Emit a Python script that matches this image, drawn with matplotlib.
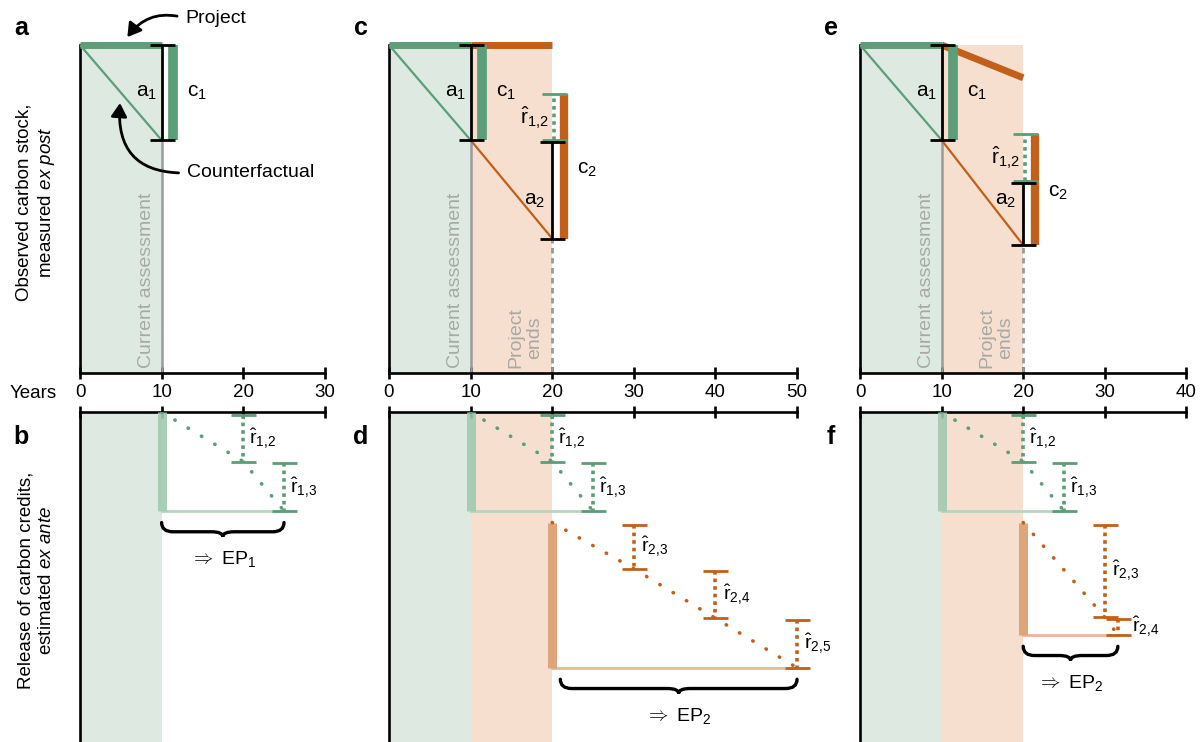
import numpy as np
import matplotlib.pyplot as plt
from matplotlib.path import Path
from matplotlib.patches import PathPatch

plt.rcParams['font.family'] = ['Liberation Sans', 'DejaVu Sans']
plt.rcParams['mathtext.fontset'] = 'custom'
plt.rcParams['mathtext.rm'] = 'Liberation Sans'
plt.rcParams['mathtext.it'] = 'Liberation Sans:italic'
plt.rcParams['mathtext.bf'] = 'Liberation Sans:bold'
plt.rcParams['axes.linewidth'] = 1.9

# ---------------- data ----------------
x_max = [30, 50, 40]
x_ticks = [[0, 10, 20, 30], [0, 10, 20, 30, 40, 50], [0, 10, 20, 30, 40]]
assess_year = 10
end_year = 20

# top row: observed carbon stock (arbitrary units)
stock_start = 100
cf_stock_assess = 71
proj_stock_end = [None, 100, 90]
cf_stock_end = [None, 41, 39]
r12_hi = [None, 85, 73]
r12_lo = [None, 71, 58.5]

# bottom row: cumulative release of credits (arbitrary units, downwards)
g_years = [10, 20, 25]
g_levels = [0, 15, 30]
g_labels = ['1{,}2', '1{,}3']
o_years = [None, [20, 30, 40, 50], [20, 30, 31.6]]
o_levels = [None, [33.5, 47.5, 62.5, 77.5], [33.5, 62.2, 67.5]]
o_labels = [None, ['2{,}3', '2{,}4', '2{,}5'], ['2{,}3', '2{,}4']]
ep_names = ['EP$_1$', 'EP$_2$', 'EP$_2$']
top_letters = ['a', 'c', 'e']
bot_letters = ['b', 'd', 'f']

# ---------------- style ----------------
green = '#5b9e78'
green_fill = '#deeae1'
green_soft = '#a2c9b0'
green_line = '#b7d6c2'
orange = '#c25f18'
orange_fill = '#f6dfcf'
orange_soft = '#dea47a'
orange_line = '#e9b898'
grey = '#9a9a9a'
grey_txt = '#a8a8a8'

W, H = 1203, 742
fig = plt.figure(figsize=(W / 100, H / 100), dpi=100)
ppy = 8.16
col_x0 = [80, 389, 860]
letter_x = [21, 361, 831]


def px_rect(x0, y0, x1, y1):
    return [x0 / W, 1 - y1 / H, (x1 - x0) / W, (y1 - y0) / H]


def ebar(ax, x, y0, y1, color, dotted=False, lw=2.0, cap=9):
    eb = ax.errorbar([x], [(y0 + y1) / 2], yerr=[[abs(y1 - y0) / 2]], fmt='none',
                     ecolor=color, elinewidth=lw, capsize=cap, capthick=lw, zorder=5)
    for art in list(eb[1]) + list(eb[2]):
        art.set_clip_on(False)
    if dotted:
        eb[2][0].set_linestyle((0, (1, 1.1)))
        eb[2][0].set_linewidth(2.6)
    return eb


def brace(ax, x0, x1, y, h, q=1.4):
    xm = (x0 + x1) / 2
    hh = y + h * 0.65
    verts = [(x0, y), (x0, hh), (x0 + q, hh),
             (xm - q, hh),
             (xm, hh), (xm, y + h),
             (xm, hh), (xm + q, hh),
             (x1 - q, hh),
             (x1, hh), (x1, y)]
    codes = [Path.MOVETO, Path.CURVE3, Path.CURVE3,
             Path.LINETO,
             Path.CURVE3, Path.CURVE3,
             Path.CURVE3, Path.CURVE3,
             Path.LINETO,
             Path.CURVE3, Path.CURVE3]
    ax.add_patch(PathPatch(Path(verts, codes), fill=False, lw=2.4, color='k',
                           clip_on=False, capstyle='round'))


def rhat(lab):
    return r'$\hat{\mathrm{r}}_{%s}$' % lab


for i in range(3):
    x0 = col_x0[i]
    x1 = x0 + x_max[i] * ppy
    ax = fig.add_axes(px_rect(x0, 45, x1, 373))
    bx = fig.add_axes(px_rect(x0, 412, x1, 742))
    for a in (ax, bx):
        a.set_xlim(0, x_max[i])
        a.set_xticks(x_ticks[i])
        a.set_yticks([])
        a.patch.set_visible(False)
        a.spines['right'].set_visible(False)
        a.tick_params(axis='x', direction='inout', length=8, width=1.9,
                      labelsize=13.5, pad=4)
        a.axvspan(0, assess_year, color=green_fill, lw=0, zorder=0)
        if i > 0:
            a.axvspan(assess_year, end_year, color=orange_fill, lw=0, zorder=0)
    ax.set_ylim(0, 100)
    ax.spines['top'].set_visible(False)
    bx.set_ylim(100, 0)
    bx.spines['bottom'].set_visible(False)
    bx.xaxis.tick_top()
    bx.tick_params(labeltop=False)

    # ---------- top panel ----------
    ax.plot([0, assess_year], [stock_start, stock_start], color=green, lw=5,
            solid_capstyle='butt', clip_on=False, zorder=4)
    ax.plot([0, assess_year], [stock_start, cf_stock_assess], color=green, lw=1.6, zorder=3)
    ax.plot([assess_year, assess_year], [0, cf_stock_assess], color=grey, lw=1.8, zorder=2)
    ebar(ax, assess_year, stock_start, cf_stock_assess, 'k')
    ax.plot([assess_year + 1.4] * 2, [stock_start, cf_stock_assess], color=green, lw=7,
            solid_capstyle='butt', zorder=4, clip_on=False)
    ax.text(8.2, 85.5, r'$\mathrm{a}_1$', ha='center', va='center', fontsize=15)
    ax.text(14.3, 85.5, r'$\mathrm{c}_1$', ha='center', va='center', fontsize=15)
    ax.text(8.2, 1.5, 'Current assessment', rotation=90, ha='center', va='bottom',
            color=grey_txt, fontsize=14)

    if i == 0:
        ax.annotate('Project', xy=(5.8, 102.4), xytext=(12.9, 108.2), ha='left', va='center',
                    fontsize=14, annotation_clip=False,
                    arrowprops=dict(arrowstyle='-|>,head_length=0.5,head_width=0.3',
                                    connectionstyle='arc3,rad=0.35', color='k', lw=2,
                                    relpos=(0, 0.5), shrinkA=4, shrinkB=0,
                                    mutation_scale=16))
        ax.annotate('Counterfactual', xy=(4.9, 82.3), xytext=(13.1, 61), ha='left',
                    va='center', fontsize=14, annotation_clip=False,
                    arrowprops=dict(arrowstyle='-|>,head_length=0.5,head_width=0.3',
                                    connectionstyle='arc3,rad=-0.55', color='k', lw=2,
                                    relpos=(0, 0.5), shrinkA=4, shrinkB=0,
                                    mutation_scale=16))
    else:
        pe, ce = proj_stock_end[i], cf_stock_end[i]
        ax.plot([assess_year, end_year], [stock_start, pe], color=orange, lw=5,
                solid_capstyle='butt', clip_on=False, zorder=3)
        ax.plot([assess_year, end_year], [cf_stock_assess, ce], color=orange, lw=1.6, zorder=3)
        ax.plot([end_year, end_year], [0, ce], color=grey, lw=2, ls=(0, (2, 1.6)), zorder=2)
        ebar(ax, end_year + 0.2, r12_hi[i], r12_lo[i], green, dotted=True)
        ebar(ax, end_year, r12_lo[i] - 0.6, ce, 'k')
        ax.plot([end_year + 1.5] * 2, [r12_hi[i], ce], color=orange, lw=6,
                solid_capstyle='butt', zorder=4)
        ax.text(17.8, (r12_hi[i] + r12_lo[i]) / 2, rhat('1{,}2'), ha='center', va='center',
                fontsize=15)
        ax.text(24.3, (r12_hi[i] + ce) / 2 - 1, r'$\mathrm{c}_2$', ha='center', va='center',
                fontsize=15)
        ax.text(17.8, 52.7, r'$\mathrm{a}_2$', ha='center', va='center', fontsize=15)
        ax.text(16.7, 1.5, 'Project\nends', rotation=90, ha='center', va='bottom',
                color=grey_txt, fontsize=14, linespacing=1.1)

    # ---------- bottom panel ----------
    bx.plot([g_years[0] + 0.1] * 2, [g_levels[0], g_levels[-1]], color=green_soft, lw=6.5,
            solid_capstyle='butt', zorder=3, alpha=0.9)
    bx.plot([g_years[0], g_years[-1]], [g_levels[-1]] * 2, color=green_line, lw=2, zorder=2)
    bx.plot(g_years, g_levels, color=green, lw=2.6, ls=(0, (0.1, 4.2)),
            dash_capstyle='round', zorder=4)
    for k in range(1, len(g_years)):
        top = g_levels[k - 1] + (0.9 if k == 1 else 0.6)
        ebar(bx, g_years[k], top, g_levels[k], green, dotted=True)
        bx.text(g_years[k] + 0.7, (top + g_levels[k]) / 2, rhat(g_labels[k - 1]),
                ha='left', va='center', fontsize=14)

    if i == 0:
        span = (g_years[0], g_years[-1])
        lvl = g_levels[-1]
    else:
        yr, lv = o_years[i], o_levels[i]
        bx.plot([yr[0]] * 2, [lv[0], lv[-1]], color=orange_soft, lw=6.5,
                solid_capstyle='butt', zorder=3)
        bx.plot([yr[0], yr[-1]], [lv[-1]] * 2, color=orange_line, lw=2, zorder=2)
        bx.plot(yr, lv, color=orange, lw=2.6, ls=(0, (0.1, 4.2)),
                dash_capstyle='round', zorder=4)
        for k in range(1, len(yr)):
            top = lv[k - 1] + 0.6
            ebar(bx, yr[k], top, lv[k], orange, dotted=True)
            off = 1.7 if (lv[k] - top) < 8 else 0.9
            bx.text(yr[k] + off, (top + lv[k]) / 2, rhat(o_labels[i][k - 1]),
                    ha='left', va='center', fontsize=14)
        span = (yr[0] + (1 if i == 1 else 0), yr[-1])
        lvl = lv[-1]
    brace(bx, span[0], span[1], lvl + 3.5, 4.3)
    bx.text(sum(span) / 2, lvl + 14.5, r'$\Rightarrow$ ' + ep_names[i], ha='center',
            va='center', fontsize=14)

    fig.text(letter_x[i] / W, 1 - 28 / H, top_letters[i], fontsize=18, fontweight='bold',
             ha='center', va='center')
    fig.text(letter_x[i] / W, 1 - 437 / H, bot_letters[i], fontsize=18, fontweight='bold',
             ha='center', va='center')

fig.text(57 / W, 1 - 393 / H, 'Years', ha='right', va='center', fontsize=13.5)
fig.text(36 / W, 1 - 202 / H, 'Observed carbon stock,\nmeasured $\\mathit{ex\\ post}$',
         rotation=90, ha='center', va='center', fontsize=13.5, linespacing=1.25)
fig.text(36 / W, 1 - 580 / H, 'Release of carbon credits,\nestimated $\\mathit{ex\\ ante}$',
         rotation=90, ha='center', va='center', fontsize=13.5, linespacing=1.25)

fig.savefig('out.png', dpi=100)
